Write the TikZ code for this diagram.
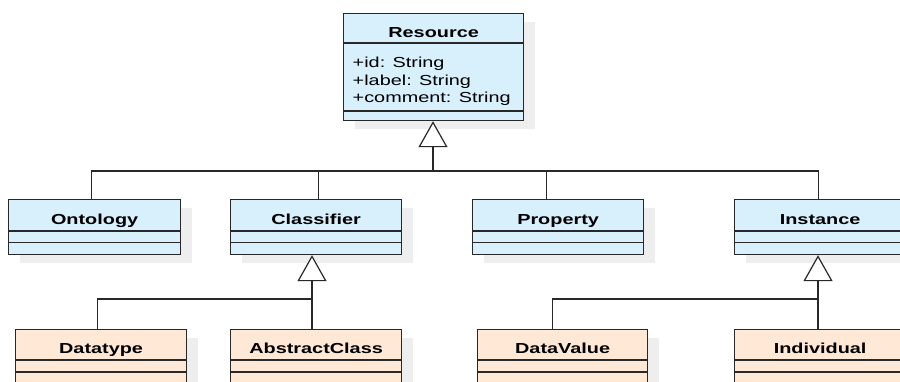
\documentclass[tikz,border=0pt]{standalone}
\usepackage{fontspec}
\setmainfont{Liberation Sans}
\usetikzlibrary{arrows.meta,shadows}
\definecolor{blueF}{RGB}{216,239,252}
\definecolor{peachF}{RGB}{255,232,213}
\definecolor{shadowG}{RGB}{238,238,238}
\definecolor{edgeC}{RGB}{40,40,40}
\newcommand{\hs}[1]{\scalebox{1.37}[1]{#1}}
\tikzset{
  umlbox/.style={draw=edgeC, line width=1.2pt, inner sep=0pt, anchor=north west,
    minimum width=171pt, minimum height=55pt,
    drop shadow={shadow xshift=11pt, shadow yshift=-8pt, fill=shadowG, opacity=1}},
  bluebox/.style={umlbox, fill=blueF},
  peachbox/.style={umlbox, fill=peachF, minimum height=75pt},
  ttl/.style={anchor=base, inner sep=0pt, font=\bfseries\fontsize{14.5}{17}\selectfont},
  attr/.style={anchor=base west, inner sep=0pt, font=\fontsize{14.5}{17}\selectfont},
  divl/.style={draw=edgeC, line width=1.2pt},
  conn/.style={draw=edgeC, line width=1.3pt},
  gen/.style={conn, -{Triangle[width=29pt, length=26pt, fill=white, line width=1.2pt]}}
}
\begin{document}
\begin{tikzpicture}[x=1pt,y=-1pt]
\useasboundingbox (0,0) rectangle (900,381);
\clip (0,0) rectangle (900,381);
\fill[white] (0,0) rectangle (900,381);

% Resource
\node[bluebox, minimum width=180pt, minimum height=107pt] (res) at (343,13) {};
\draw[divl] ([yshift=-30pt]res.north west) -- ([yshift=-30pt]res.north east);
\draw[divl] ([yshift=-98pt]res.north west) -- ([yshift=-98pt]res.north east);
\node[ttl] (resT) at ([yshift=-24.7pt]res.north) {\hs{Resource}};
\node[attr] (a1) at (352.5,67) {\hs{+id: String}};
\node[attr] (a2) at (352.5,85) {\hs{+label: String}};
\node[attr] (a3) at (352.5,102.5) {\hs{+comment: String}};

% second row
\foreach \nm/\x/\w/\t in {ont/8/172/Ontology, cls/230/171/Classifier, prop/472/171/Property, inst/734/171/Instance}{
  \node[bluebox, minimum width=\w pt] (\nm) at (\x,199) {};
  \draw[divl] ([yshift=-32pt]\nm.north west) -- ([yshift=-32pt]\nm.north east);
  \draw[divl] ([yshift=-43.5pt]\nm.north west) -- ([yshift=-43.5pt]\nm.north east);
  \node[ttl] (\nm T) at ([yshift=-25pt]\nm.north) {\hs{\t}};
}

% third row
\foreach \nm/\x/\w/\t in {dt/15/171/Datatype, ac/230/171/AbstractClass, dv/477/170/DataValue, ind/734/171/Individual}{
  \node[peachbox, minimum width=\w pt] (\nm) at (\x,329) {};
  \draw[divl] ([yshift=-31pt]\nm.north west) -- ([yshift=-31pt]\nm.north east);
  \draw[divl] ([yshift=-43pt]\nm.north west) -- ([yshift=-43pt]\nm.north east);
  \node[ttl] (\nm T) at ([yshift=-24.5pt]\nm.north) {\hs{\t}};
}

% generalisation to Resource
\coordinate (j1) at (433,171);
\draw[conn] ([xshift=-3pt]ont.north) |- (j1);
\draw[conn] ([xshift=2.5pt]cls.north) |- (j1);
\draw[conn] ([xshift=-11.5pt]prop.north) |- (j1);
\draw[conn] ([xshift=-1.5pt]inst.north) |- (j1);
\draw[gen] (j1) -- (res.south -| j1);

% generalisation to Classifier
\coordinate (j2) at (312,299);
\draw[conn] ([xshift=-3.5pt]dt.north) |- (j2);
\draw[conn] (ac.north -| j2) -- (j2);
\draw[gen] (j2) -- (cls.south -| j2);

% generalisation to Instance
\coordinate (j3) at (818,299);
\draw[conn] ([xshift=-10pt]dv.north) |- (j3);
\draw[conn] (ind.north -| j3) -- (j3);
\draw[gen] (j3) -- (inst.south -| j3);
\end{tikzpicture}
\end{document}
